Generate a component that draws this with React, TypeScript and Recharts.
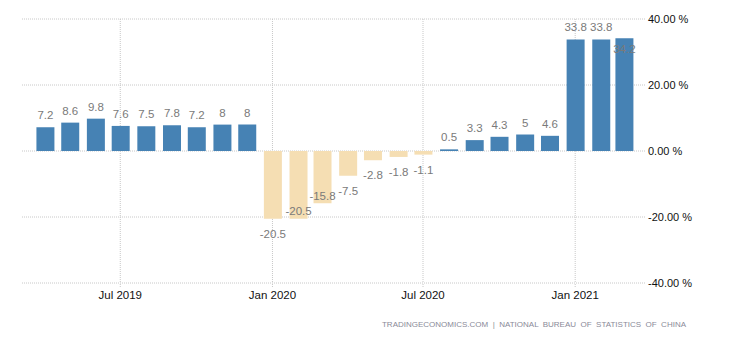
import React from 'react';
import { BarChart, Bar, XAxis, YAxis, CartesianGrid, Cell, LabelList } from 'recharts';

const months = [
  '2019-04', '2019-05', '2019-06', '2019-07', '2019-08', '2019-09', '2019-10', '2019-11', '2019-12',
  '2020-01', '2020-02', '2020-03', '2020-04', '2020-05', '2020-06', '2020-07', '2020-08', '2020-09',
  '2020-10', '2020-11', '2020-12', '2021-01', '2021-02', '2021-03',
];
const values = [
  7.2, 8.6, 9.8, 7.6, 7.5, 7.8, 7.2, 8, 8,
  -20.5, -20.5, -15.8, -7.5, -2.8, -1.8, -1.1, 0.5, 3.3,
  4.3, 5, 4.6, 33.8, 33.8, 34.2,
];
const xTickMonths = ['2019-07', '2020-01', '2020-07', '2021-01'];
const yTicks = [-40, -20, 0, 20, 40];
const monthNames = ['Jan', 'Feb', 'Mar', 'Apr', 'May', 'Jun', 'Jul', 'Aug', 'Sep', 'Oct', 'Nov', 'Dec'];
const sourceText = 'TRADINGECONOMICS.COM  |  NATIONAL  BUREAU  OF  STATISTICS  OF  CHINA';

const toTime = (m: string) => {
  const [y, mo] = m.split('-').map(Number);
  return Date.UTC(y, mo - 1, 1);
};

const data = months.map((m, i) => ({ t: toTime(m), value: values[i] }));
const xTicks = xTickMonths.map(toTime);

const fmtDate = (t: number) => {
  const d = new Date(t);
  return `${monthNames[d.getUTCMonth()]} ${d.getUTCFullYear()}`;
};

const FONT = '"Liberation Sans", Arial, sans-serif';
const POS = '#4682B4';
const NEG = '#F5DEB3';

// rough text width estimate (11px Arial)
const textWidth = (s: string) => {
  let w = 0;
  for (const c of s) {
    if (c === '.') w += 3.06;
    else if (c === '-') w += 3.66;
    else w += 6.12;
  }
  return w;
};

type Box = { x0: number; x1: number; y0: number; y1: number };
let placed: Box[] = [];

const renderLabel = (props: any) => {
  const vb = props.viewBox || props;
  const x = Number(vb.x ?? props.x);
  const y = Number(vb.y ?? props.y);
  const w = Number(vb.width ?? props.width);
  const h = Number(vb.height ?? props.height);
  const index = props.index;
  if (index === 0) placed = [];
  const v = values[index];
  const text = String(v);
  const top = Math.min(y, y + h);
  const bottom = Math.max(y, y + h);
  const cx = x + w / 2;
  const tw = textWidth(text);
  let base = v >= 0 ? top - 8 : bottom + 19;
  const box = { x0: cx - tw / 2, x1: cx + tw / 2, y0: base - 8, y1: base };
  const prev = placed[placed.length - 1];
  const pad = 2;
  if (
    prev &&
    box.x0 < prev.x1 + pad &&
    prev.x0 < box.x1 + pad &&
    box.y0 < prev.y1 + pad &&
    prev.y0 < box.y1 + pad
  ) {
    base = v >= 0 ? top + 15 : bottom - 3.5;
  }
  placed.push({ x0: cx - tw / 2, x1: cx + tw / 2, y0: base - 8, y1: base });
  return (
    <text
      key={`lbl-${index}`}
      x={cx}
      y={base}
      textAnchor="middle"
      fill="#7a7a7a"
      fontSize={11.5}
      fontFamily={FONT}
    >
      {text}
    </text>
  );
};

const verticalGen = (props: any) => {
  const scale = props?.xAxis?.scale;
  if (typeof scale === 'function') return xTicks.map((t) => scale(t));
  if (scale && typeof scale.map === 'function') return xTicks.map((t) => scale.map(t));
  return [];
};

export default function App() {
  return (
    <div style={{ position: 'absolute', left: 0, top: 0, width: 730, height: 340, background: '#fff' }}>
      <BarChart
        width={730}
        height={340}
        data={data}
        margin={{ top: 19, right: 4, bottom: 27, left: 22 }}
      >
        <CartesianGrid
          stroke="#c8c8c8"
          strokeDasharray="1 1"
          verticalCoordinatesGenerator={verticalGen}
        />
        <XAxis
          dataKey="t"
          type="number"
          scale="linear"
          domain={['dataMin', 'dataMax']}
          padding={{ left: 23, right: 22 }}
          ticks={xTicks}
          tickFormatter={fmtDate}
          axisLine={false}
          tickLine={{ stroke: '#c8c8c8', strokeDasharray: '1 1' }}
          tickSize={4}
          tickMargin={4}
          height={30}
          tick={{ fill: '#111', fontSize: 11.5, fontFamily: FONT }}
          interval={0}
        />
        <YAxis
          orientation="right"
          domain={[-40, 40]}
          ticks={yTicks}
          tickFormatter={(v: number) => `${v.toFixed(2)} %`}
          axisLine={false}
          tickLine={false}
          tickSize={0}
          tickMargin={2}
          width={80}
          tick={{ fill: '#111', fontSize: 11, fontFamily: FONT, textAnchor: 'start' }}
        />
        <Bar dataKey="value" barSize={18} isAnimationActive={false}>
          {data.map((d, i) => (
            <Cell key={i} fill={d.value >= 0 ? POS : NEG} />
          ))}
          <LabelList dataKey="value" content={renderLabel} />
        </Bar>
      </BarChart>
      <div
        style={{
          position: 'absolute',
          right: 44,
          top: 320,
          fontSize: 8,
          fontFamily: FONT,
          color: '#8a8a98',
          whiteSpace: 'pre',
        }}
      >
        {sourceText}
      </div>
    </div>
  );
}
